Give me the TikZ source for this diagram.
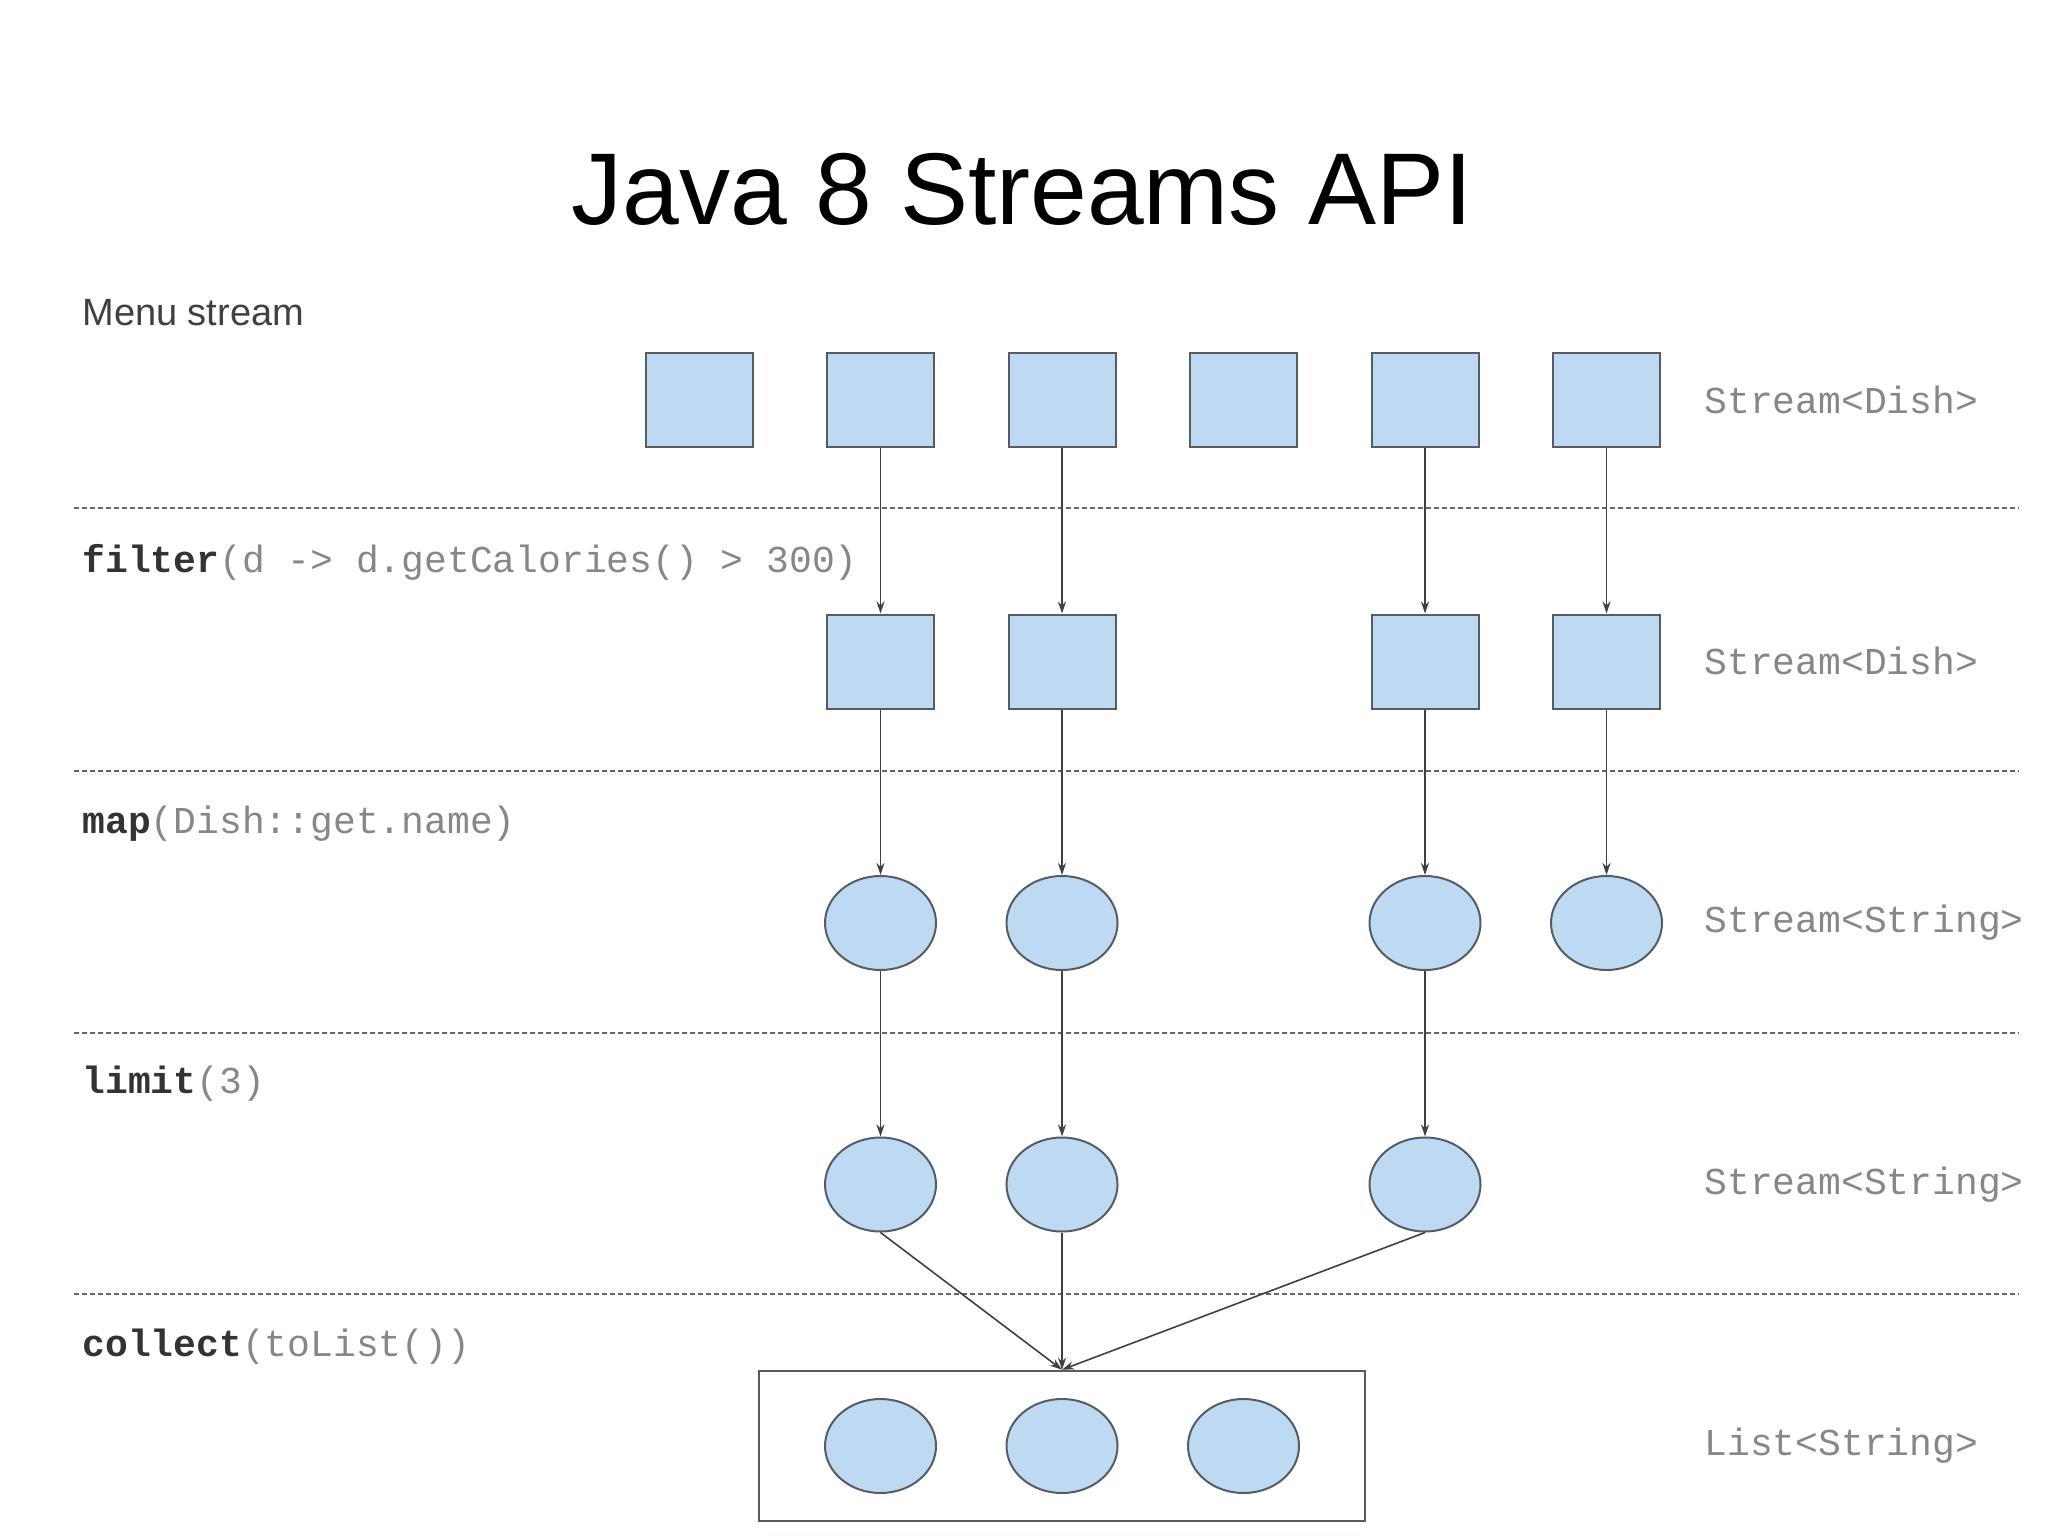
\documentclass[tikz,border=0pt]{standalone}
\usepackage{fontspec}
\setmainfont{Liberation Sans}
\setmonofont{Liberation Mono}
\usepackage{tikz}
\usetikzlibrary{shapes,arrows,arrows.meta}
\usetikzlibrary{positioning}
\definecolor{dishblue}{RGB}{190,218,242}
\definecolor{edgegray}{RGB}{85,92,100}
\definecolor{codegray}{RGB}{135,135,135}
\tikzstyle{arrow} = [-{Stealth[length=6pt,width=4pt]},draw=black!75,line width=0.8pt]
\tikzstyle{dish} = [
    rectangle, minimum width=53.5pt, minimum height=47pt, inner sep=0pt,
    draw=edgegray, line width=1pt, fill=dishblue]
\tikzstyle{dishname} = [
    ellipse, minimum width=55.5pt, minimum height=47pt, inner sep=0pt,
    draw=edgegray, line width=1pt, fill=dishblue]
\tikzstyle{op} = [anchor=west, inner sep=0pt, text=codegray,
    font=\ttfamily\fontsize{19}{22}\selectfont]
\tikzstyle{type} = [op]
\tikzstyle{divider} = [draw=black!60, line width=1.3pt, dash pattern=on 2.5pt off 1.5pt]
\newcommand{\opname}[1]{\textbf{\textcolor{black!80}{#1}}}

\begin{document}
\begin{tikzpicture}[x=0.5pt,y=-0.5pt]
\useasboundingbox (0,0) rectangle (2048,1535);

\node (title) at (1022,189) {\fontsize{51}{60}\selectfont Java 8 Streams API};

% stream of dishes
\node (dish-1) [dish] at (699,400) {};
\node (dish-2) [dish,right=36.25pt of dish-1] {};
\node (dish-3) [dish,right=36.25pt of dish-2] {};
\node (dish-4) [dish,right=36.25pt of dish-3] {};
\node (dish-5) [dish,right=36.25pt of dish-4] {};
\node (dish-6) [dish,right=36.25pt of dish-5] {};

% filter
\node (hot-2) [dish,below=82.75pt of dish-2] {};
\node (hot-3) [dish,below=82.75pt of dish-3] {};
\node (hot-5) [dish,below=82.75pt of dish-5] {};
\node (hot-6) [dish,below=82.75pt of dish-6] {};

% map
\node (name-2) [dishname,below=82.75pt of hot-2] {};
\node (name-3) [dishname,below=82.75pt of hot-3] {};
\node (name-5) [dishname,below=82.75pt of hot-5] {};
\node (name-6) [dishname,below=82.75pt of hot-6] {};

% limit
\node (first-2) [dishname,below=82.75pt of name-2] {};
\node (first-3) [dishname,below=82.75pt of name-3] {};
\node (first-5) [dishname,below=82.75pt of name-5] {};

% collect
\node (out-2) [dishname,below=82.75pt of first-2] {};
\node (out-3) [dishname,below=82.75pt of first-3] {};
\node (out-4) [dishname,below=82.75pt of first-5, xshift=-90.75pt] {};
\node (list) [draw=edgegray, line width=1.3pt, minimum width=303pt, minimum height=75pt,
    inner sep=0pt] at (out-3) {};

\foreach \y in {508,771,1033,1294}
    \draw [divider] (74,\y) -- (2019,\y);

\node (menu-lbl) [anchor=west, inner sep=0pt, text=black!75,
    font=\fontsize{19}{22}\selectfont] at (82,313) {Menu stream};
\node (filter-lbl) [op] at (82,562) {\opname{filter}(d -> d.getCalories() > 300)};
\node (map-lbl) [op] at (82,824) {\opname{map}(Dish::get.name)};
\node (limit-lbl) [op] at (82,1084) {\opname{limit}(3)};
\node (collect-lbl) [op] at (82,1347) {\opname{collect}(toList())};

\node (type-1) [type] at (1704,400) {Stream<Dish>};
\node (type-2) [type] at (1704,661) {Stream<Dish>};
\node (type-3) [type] at (1704,923) {Stream<String>};
\node (type-4) [type] at (1704,1185) {Stream<String>};
\node (type-5) [type] at (1704,1446) {List<String>};

\foreach \i in {2,3,5,6} {
    \draw [arrow] (dish-\i.south) -- (hot-\i.north);
    \draw [arrow] (hot-\i.south) -- (name-\i.north);
}
\foreach \i in {2,3,5}
    \draw [arrow] (name-\i.south) -- (first-\i.north);
\foreach \i in {2,3,5}
    \draw [arrow] (first-\i.south) -- (list.north);
\end{tikzpicture}
\end{document}
